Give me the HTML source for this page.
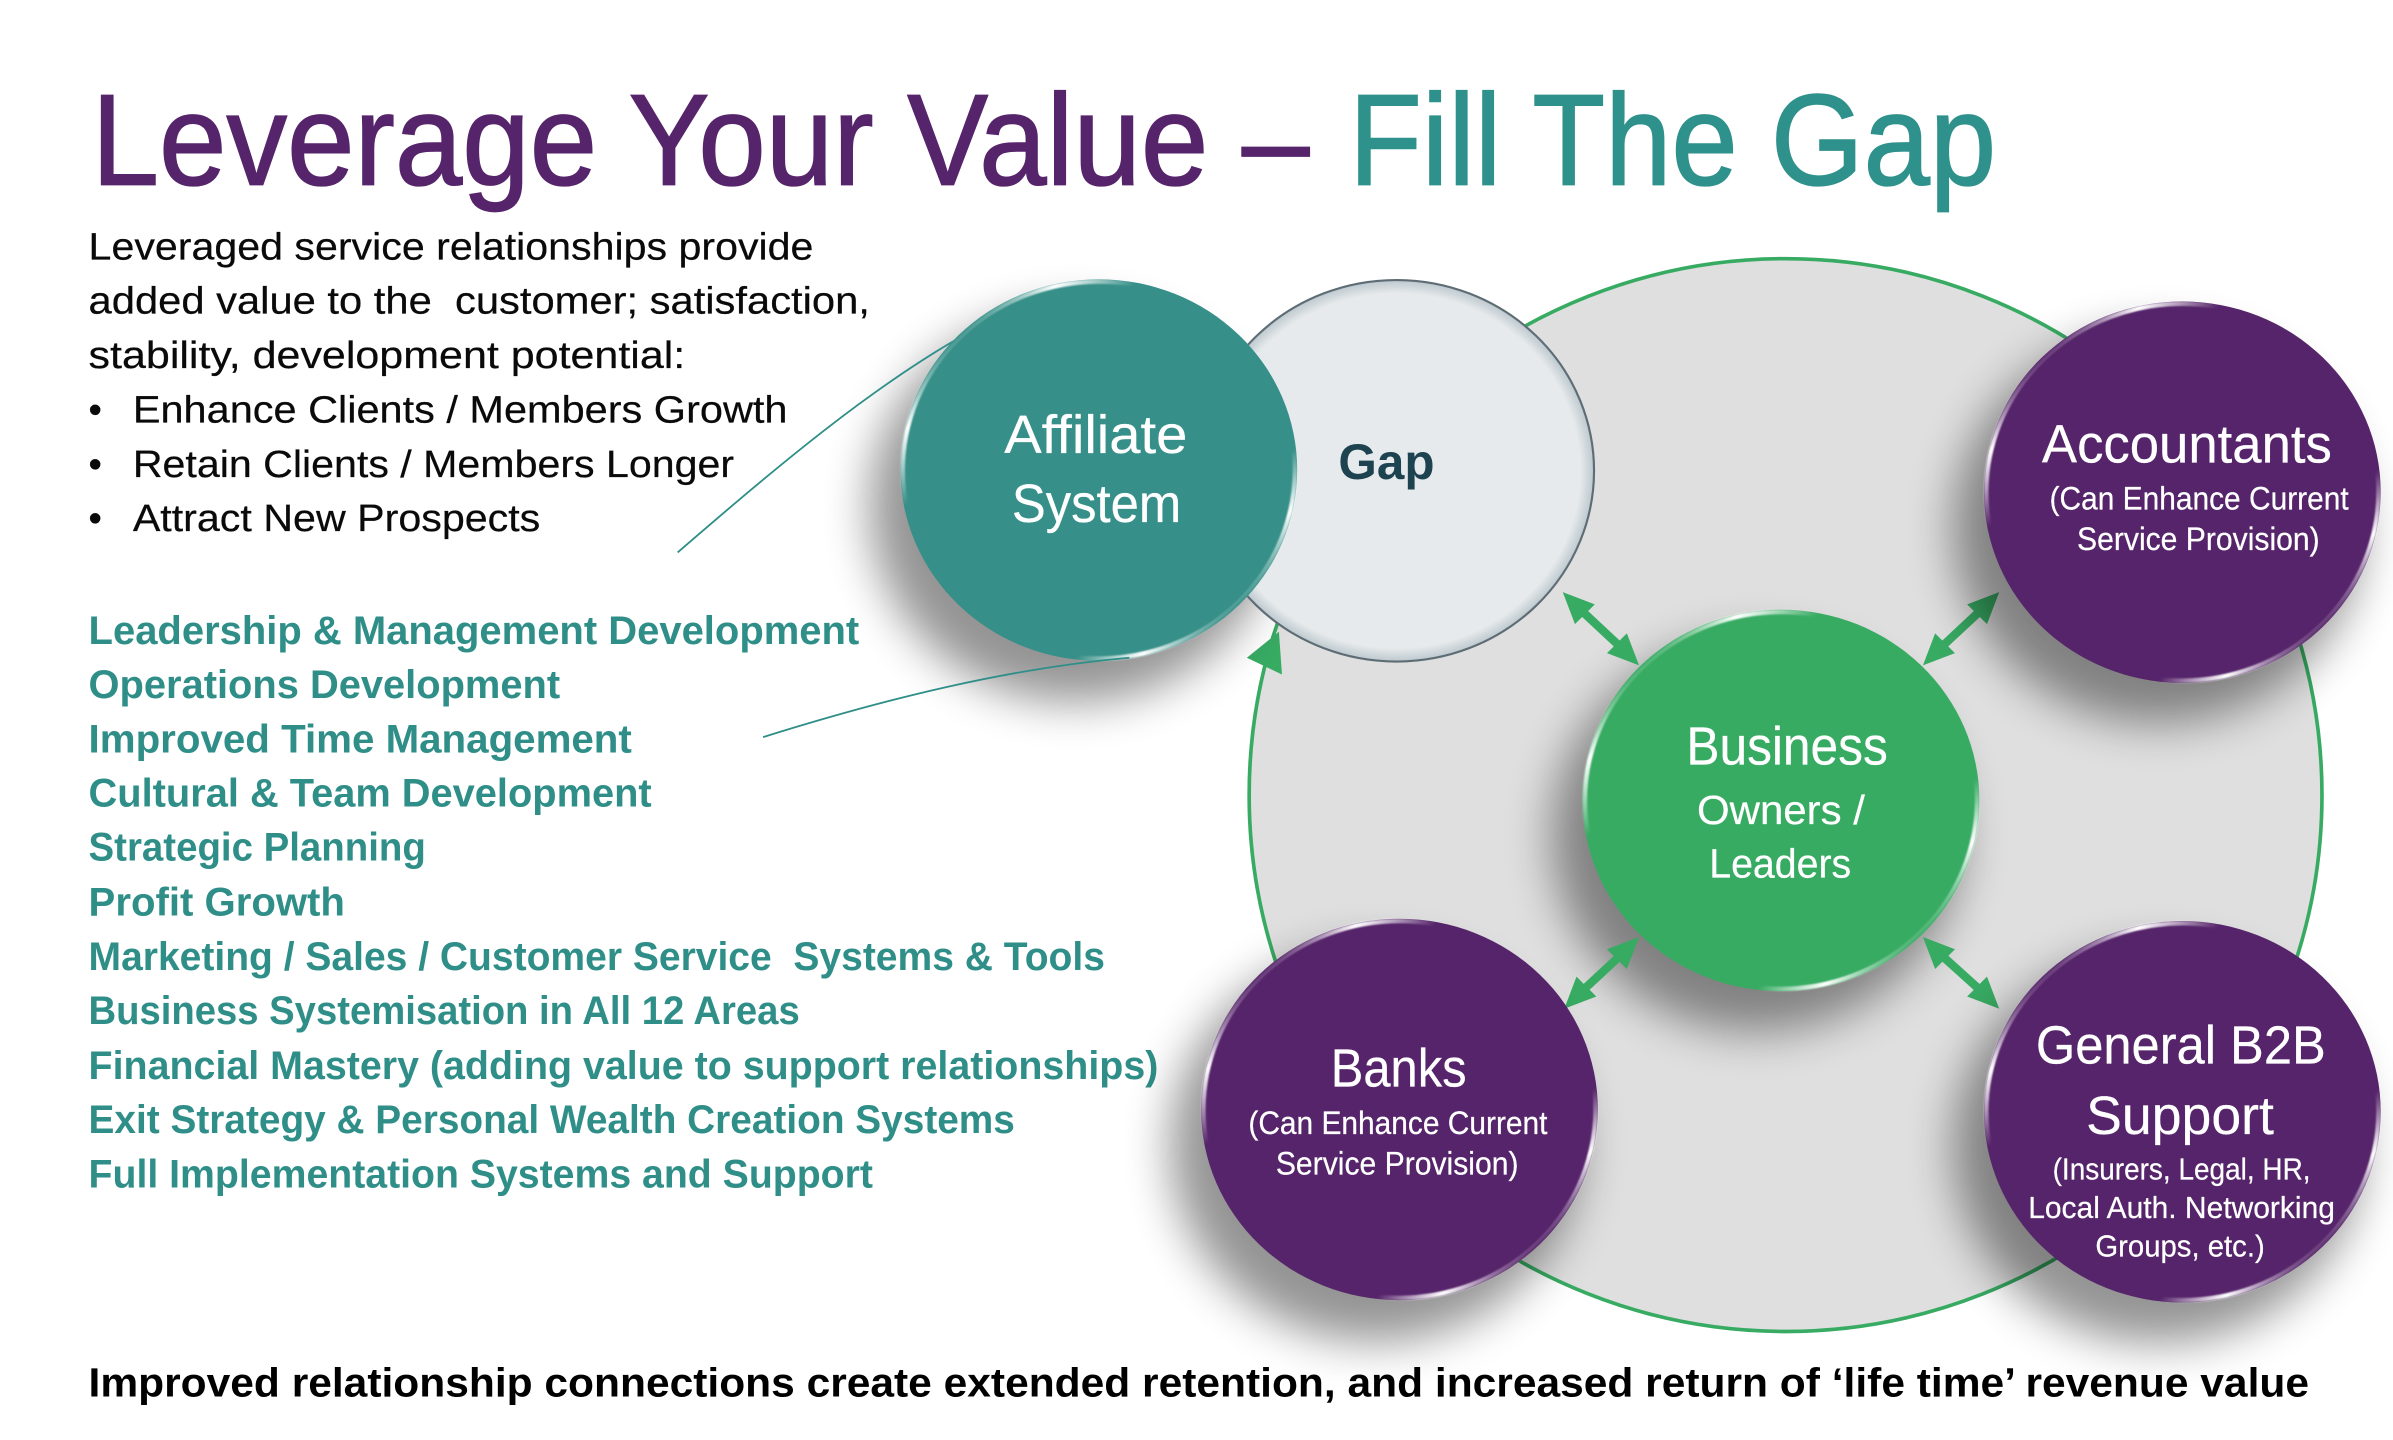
<!DOCTYPE html>
<html>
<head>
<meta charset="utf-8">
<style>
html,body{margin:0;padding:0;background:#fff;width:2393px;height:1440px;overflow:hidden}
svg{display:block}
text{font-family:"Liberation Sans",sans-serif;white-space:pre}
.b{font-size:25px;fill:#0a0a0a;stroke:#0a0a0a;stroke-width:.15}
.t{font-size:26px;font-weight:bold;fill:#2f8f88}
.w{fill:#fff;stroke:#fff;stroke-width:.15}
</style>
</head>
<body>
<svg width="2393" height="1440" viewBox="0 0 1568 943.6" xmlns="http://www.w3.org/2000/svg">
<defs>
<filter id="s" x="-40%" y="-40%" width="180%" height="180%"><feGaussianBlur stdDeviation="15"/></filter>
<filter id="r" x="-5%" y="-5%" width="110%" height="110%"><feGaussianBlur stdDeviation=".5"/></filter>
<linearGradient id="rim" x1="0" y1="0" x2="1" y2="1">
<stop offset="0" stop-color="#fff" stop-opacity="0"/>
<stop offset=".14" stop-color="#fff" stop-opacity="0"/>
<stop offset=".2" stop-color="#fff" stop-opacity="1"/>
<stop offset=".3" stop-color="#fff" stop-opacity="0"/>
<stop offset=".72" stop-color="#fff" stop-opacity="0"/>
<stop offset=".8" stop-color="#fff" stop-opacity="1"/>
<stop offset=".86" stop-color="#fff" stop-opacity="0"/>
</linearGradient>
<radialGradient id="gapf" cx=".5" cy=".5" r=".5">
<stop offset=".93" stop-color="#e7eaec"/>
<stop offset="1" stop-color="#bcc8ce"/>
</radialGradient>
</defs>

<!-- Title -->
<text x="60" y="121" font-size="85" fill="#56246a" stroke="#56246a" stroke-width="1" textLength="798" lengthAdjust="spacingAndGlyphs">Leverage Your Value –</text>
<text x="884" y="121" font-size="85" fill="#2f918b" stroke="#2f918b" stroke-width="1" textLength="424" lengthAdjust="spacingAndGlyphs">Fill The Gap</text>

<!-- Body -->
<text class="b" x="58" y="170" textLength="475" lengthAdjust="spacingAndGlyphs">Leveraged service relationships provide</text>
<text class="b" x="58" y="205.5" textLength="512" lengthAdjust="spacingAndGlyphs">added value to the  customer; satisfaction,</text>
<text class="b" x="58" y="241" textLength="391" lengthAdjust="spacingAndGlyphs">stability, development potential:</text>
<text class="b" x="58" y="277">•</text><text class="b" x="87" y="277" textLength="429" lengthAdjust="spacingAndGlyphs">Enhance Clients / Members Growth</text>
<text class="b" x="58" y="312.5">•</text><text class="b" x="87" y="312.5" textLength="394" lengthAdjust="spacingAndGlyphs">Retain Clients / Members Longer</text>
<text class="b" x="58" y="348">•</text><text class="b" x="87" y="348" textLength="267" lengthAdjust="spacingAndGlyphs">Attract New Prospects</text>

<text class="t" x="58" y="422" textLength="505" lengthAdjust="spacingAndGlyphs">Leadership &amp; Management Development</text>
<text class="t" x="58" y="457.5" textLength="309" lengthAdjust="spacingAndGlyphs">Operations Development</text>
<text class="t" x="58" y="493" textLength="356" lengthAdjust="spacingAndGlyphs">Improved Time Management</text>
<text class="t" x="58" y="528.5" textLength="369" lengthAdjust="spacingAndGlyphs">Cultural &amp; Team Development</text>
<text class="t" x="58" y="564" textLength="221" lengthAdjust="spacingAndGlyphs">Strategic Planning</text>
<text class="t" x="58" y="600" textLength="168" lengthAdjust="spacingAndGlyphs">Profit Growth</text>
<text class="t" x="58" y="635.5" textLength="666" lengthAdjust="spacingAndGlyphs">Marketing / Sales / Customer Service  Systems &amp; Tools</text>
<text class="t" x="58" y="671" textLength="466" lengthAdjust="spacingAndGlyphs">Business Systemisation in All 12 Areas</text>
<text class="t" x="58" y="707" textLength="701" lengthAdjust="spacingAndGlyphs">Financial Mastery (adding value to support relationships)</text>
<text class="t" x="58" y="742.5" textLength="607" lengthAdjust="spacingAndGlyphs">Exit Strategy &amp; Personal Wealth Creation Systems</text>
<text class="t" x="58" y="778" textLength="514" lengthAdjust="spacingAndGlyphs">Full Implementation Systems and Support</text>

<text x="58" y="915" font-size="27" font-weight="bold" fill="#000" textLength="1455" lengthAdjust="spacingAndGlyphs">Improved relationship connections create extended retention, and increased return of ‘life time’ revenue value</text>

<!-- Big circle -->
<circle cx="1170" cy="521" r="351.5" fill="#dfdfdf" stroke="#38ab63" stroke-width="2.4"/>

<!-- Business shadow sits beneath the arrows -->
<ellipse cx="1151" cy="548" rx="134" ry="128" fill="#000" opacity=".42" filter="url(#s)"/>

<!-- Arrows -->
<g fill="#38ab63" stroke="none">
<g stroke="#38ab63" stroke-width="5.5">
<line x1="1034" y1="398" x2="1064" y2="426"/>
<line x1="1270" y1="426" x2="1300" y2="398"/>
<line x1="1035" y1="651" x2="1064" y2="624"/>
<line x1="1270" y1="624" x2="1300" y2="651"/>
</g>
<polygon points="1024,388 1045,396 1032,409"/>
<polygon points="1074,436 1053,428 1066,415"/>
<polygon points="1310,388 1289,396 1302,409"/>
<polygon points="1260,436 1281,428 1268,415"/>
<polygon points="1025,661 1046,653 1033,640"/>
<polygon points="1074,614 1053,622 1066,635"/>
<polygon points="1310,661 1289,653 1302,640"/>
<polygon points="1260,614 1281,622 1268,635"/>
<polygon points="838,414 840,442 817,431"/>
</g>

<!-- Shadows -->
<g fill="#000" opacity=".42" filter="url(#s)">
<ellipse cx="704" cy="332" rx="134" ry="128"/>
<ellipse cx="1414" cy="346" rx="134" ry="128"/>
<ellipse cx="901" cy="751" rx="134" ry="128"/>
<ellipse cx="1414" cy="752" rx="134" ry="128"/>
</g>

<!-- Leader curves -->
<path d="M444,362 C510,305 575,250 640,215" fill="none" stroke="#2f8f88" stroke-width="1.2"/>

<!-- Gap -->
<ellipse cx="915" cy="308.5" rx="129.5" ry="125" fill="url(#gapf)" stroke="#5e6d75" stroke-width="1.4"/>
<!-- Circles -->
<g fill="none" stroke="url(#rim)" stroke-width="3">
<ellipse cx="720" cy="308" rx="130" ry="125" fill="#368f88" stroke="none"/>
<ellipse cx="720" cy="308" rx="128.5" ry="123.5" filter="url(#r)"/>
<ellipse cx="1430" cy="322.5" rx="130" ry="125" fill="#56246a" stroke="none"/>
<ellipse cx="1430" cy="322.5" rx="128.5" ry="123.5" filter="url(#r)"/>
<ellipse cx="1167" cy="524.5" rx="130" ry="125" fill="#38ab63" stroke="none"/>
<ellipse cx="1167" cy="524.5" rx="128.5" ry="123.5" filter="url(#r)"/>
<ellipse cx="917" cy="727" rx="130" ry="125" fill="#56246a" stroke="none"/>
<ellipse cx="917" cy="727" rx="128.5" ry="123.5" filter="url(#r)"/>
<ellipse cx="1430" cy="728.5" rx="130" ry="125" fill="#56246a" stroke="none"/>
<ellipse cx="1430" cy="728.5" rx="128.5" ry="123.5" filter="url(#r)"/>
</g>

<path d="M500,483 C580,458 660,438 740,431" fill="none" stroke="#2f8f88" stroke-width="1.2"/>

<!-- Circle labels -->
<text class="w" x="658" y="297" font-size="35" textLength="120" lengthAdjust="spacingAndGlyphs">Affiliate</text>
<text class="w" x="663" y="342" font-size="35" textLength="111" lengthAdjust="spacingAndGlyphs">System</text>
<text x="877" y="314" font-size="33" font-weight="bold" fill="#1d4350" textLength="63" lengthAdjust="spacingAndGlyphs">Gap</text>

<text class="w" x="1338" y="303" font-size="35" textLength="190" lengthAdjust="spacingAndGlyphs">Accountants</text>
<text class="w" x="1343" y="334" font-size="21" textLength="196" lengthAdjust="spacingAndGlyphs">(Can Enhance Current</text>
<text class="w" x="1361" y="360.5" font-size="21" textLength="159" lengthAdjust="spacingAndGlyphs">Service Provision)</text>

<text class="w" x="1105" y="501" font-size="35" textLength="132" lengthAdjust="spacingAndGlyphs">Business</text>
<text class="w" x="1112" y="540" font-size="27" textLength="110" lengthAdjust="spacingAndGlyphs">Owners /</text>
<text class="w" x="1120" y="575" font-size="27" textLength="93" lengthAdjust="spacingAndGlyphs">Leaders</text>

<text class="w" x="872" y="712" font-size="35" textLength="89" lengthAdjust="spacingAndGlyphs">Banks</text>
<text class="w" x="818" y="743" font-size="21" textLength="196" lengthAdjust="spacingAndGlyphs">(Can Enhance Current</text>
<text class="w" x="836" y="769.5" font-size="21" textLength="159" lengthAdjust="spacingAndGlyphs">Service Provision)</text>

<text class="w" x="1334" y="697" font-size="35" textLength="190" lengthAdjust="spacingAndGlyphs">General B2B</text>
<text class="w" x="1367" y="743" font-size="35" textLength="123" lengthAdjust="spacingAndGlyphs">Support</text>
<text class="w" x="1345" y="773" font-size="20" textLength="169" lengthAdjust="spacingAndGlyphs">(Insurers, Legal, HR,</text>
<text class="w" x="1329" y="798" font-size="20" textLength="201" lengthAdjust="spacingAndGlyphs">Local Auth. Networking</text>
<text class="w" x="1373" y="823.5" font-size="20" textLength="111" lengthAdjust="spacingAndGlyphs">Groups, etc.)</text>
</svg>
</body>
</html>
